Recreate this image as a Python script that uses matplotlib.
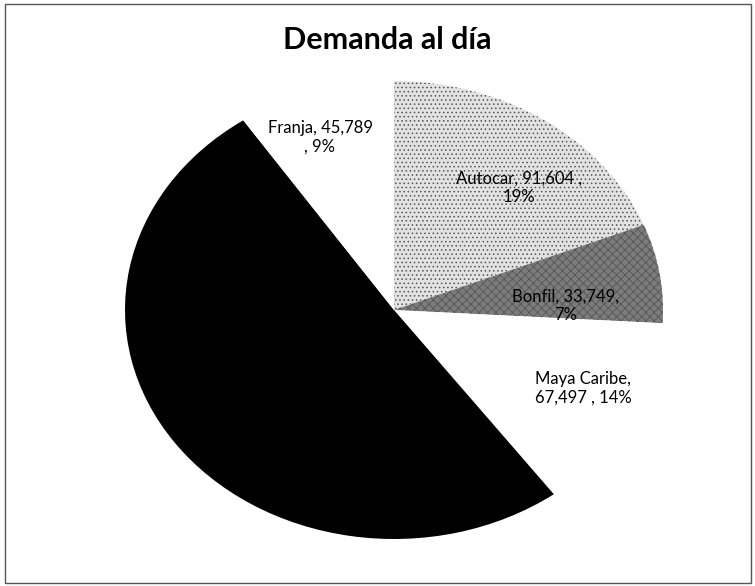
"""
Pie chart "Demanda al día" (daily demand per route).
"""
import matplotlib

matplotlib.use("Agg")
import matplotlib.pyplot as plt
from matplotlib.patches import Rectangle

# slice order follows the drawing order: clockwise from 12 o'clock
categories = ["Autocar", "Bonfil", "Maya Caribe", "", "Franja"]
values = [91604, 33749, 67497, 245000, 45789]  # black slice has no readable label
colors = ["#e2e2e2", "#7c7c7c", "#ffffff", "#000000", "#ffffff"]
hatches = ["....", "xxxx", None, None, None]
label_fmt = [
    "{n}, {v} ,\n{p}",
    "{n}, {v},\n{p}",
    "{n},\n{v} , {p}",
    None,
    "{n}, {v}\n, {p}",
]

W, H = 755, 586
# label centres in pixels (x, y from top)
label_pos = [(519, 188), (566, 306), (583, 388), None, (320, 137)]

plt.rcParams["font.family"] = ["Lato", "DejaVu Sans"]
plt.rcParams["hatch.linewidth"] = 0.6

fig = plt.figure(figsize=(W / 100, H / 100), dpi=100)
fig.patch.set_facecolor("white")

# the scanned pie is slightly squashed: ellipse box in pixels
cx, cy, rx, ry = 394, 310, 269, 229
ax = fig.add_axes([(cx - rx) / W, 1 - (cy + ry) / H, 2 * rx / W, 2 * ry / H])
wedges, _ = ax.pie(
    values,
    colors=colors,
    startangle=90,
    counterclock=False,
    radius=1,
    wedgeprops=dict(linewidth=0),
)
for w, h in zip(wedges, hatches):
    if h:
        w.set_hatch(h)
        w.set_edgecolor("#555555")
        w.set_linewidth(0)
ax.set_aspect("auto")
ax.set_xlim(-1, 1)
ax.set_ylim(-1, 1)
ax.axis("off")

total = sum(values)
for name, v, fmt, pos in zip(categories, values, label_fmt, label_pos):
    if fmt is None:
        continue
    txt = fmt.format(n=name, v=f"{v:,}", p=f"{round(100 * v / total)}%")
    fig.text(pos[0] / W, 1 - pos[1] / H, txt, ha="center", va="center",
             fontsize=12, color="black", linespacing=1.2)

fig.text(387 / W, 1 - 40 / H, "Demanda al día", ha="center", va="center",
         fontsize=22, fontweight="bold")

fig.patches.append(Rectangle((5 / W, 3 / H), 746 / W, 579 / H, transform=fig.transFigure,
                             fill=False, edgecolor="#555555", linewidth=1))

fig.savefig("out.png", dpi=100)
plt.close(fig)
